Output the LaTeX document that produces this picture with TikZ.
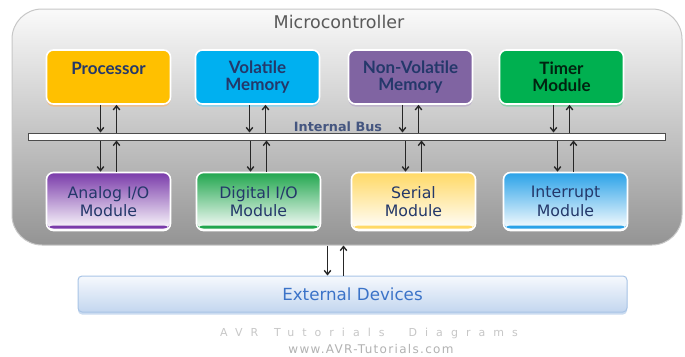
\documentclass[tikz,border=0pt]{standalone}
\usepackage{fontspec}
\setmainfont{DejaVu Sans}
\newfontfamily\latofont{Lato}
\newfontfamily\wmfont[LetterSpace=73]{DejaVu Sans}
\newfontfamily\wwwfont[LetterSpace=11]{DejaVu Sans}
\usetikzlibrary{arrows.meta,shadows}
\definecolor{navy}{HTML}{24386A}
\definecolor{cproc}{HTML}{FFC000}
\definecolor{cvmem}{HTML}{00B0F0}
\definecolor{cnvmem}{HTML}{8064A2}
\definecolor{ctimer}{HTML}{00B050}
\definecolor{canalog}{HTML}{7A3BAA}
\definecolor{cdigital}{HTML}{21A64E}
\definecolor{cserial}{HTML}{FFD966}
\definecolor{cintr}{HTML}{2AA2E8}
\definecolor{extborder}{HTML}{A8C4E6}
\definecolor{exttop}{HTML}{F6F9FD}
\definecolor{extbot}{HTML}{C3D6EF}
\definecolor{exttext}{HTML}{3B73C8}
\begin{document}
\begin{tikzpicture}[x=1pt,y=-1pt,
  topbox/.style={draw=white, line width=1.6pt, rounded corners=7pt,
    minimum width=124pt, minimum height=54pt, align=center, inner sep=0pt,
    font=\latofont\bfseries\fontsize{17}{17}\selectfont, text=navy},
  botbox/.style={draw=white, line width=1.6pt, rounded corners=7pt,
    minimum width=124pt, minimum height=58pt, align=center, inner sep=0pt,
    font=\fontsize{15.75}{18.5}\selectfont, text=navy,
    top color=#1, middle color=#1!20, bottom color=white,
    path picture={\fill[#1] ([yshift=2pt]path picture bounding box.south west) rectangle ([yshift=5pt]path picture bounding box.south east);}},
  shad/.style={drop shadow={shadow xshift=0pt, shadow yshift=-2.5pt, fill=#1, opacity=0.6}},
  arr/.style={-{Straight Barb[length=4pt,width=6.5pt]}, line width=1.4pt, black!85}]
\useasboundingbox (0,0) rectangle (685,356);
\fill[white] (0,0) rectangle (685,356);
% microcontroller container
\node[draw=black!22, line width=1pt, rounded corners=30pt, minimum width=670pt, minimum height=236pt,
  top color=black!2, middle color=black!17, bottom color=black!42, inner sep=0pt] (mc) at (347,127) {};
\node[text=black!65, font=\fontsize{17.5}{19}\selectfont] (title) at (339,22) {Microcontroller};
% top modules
\node[topbox, fill=cproc, shad=orange!60] (proc) at (108.5,77) {Processor\\\mbox{}};
\node[topbox, fill=cvmem, shad=cvmem!60] (vmem) at (257.5,77) {Volatile\\Memory};
\node[topbox, fill=cnvmem, shad=cnvmem!60] (nvmem) at (410.5,77) {Non-Volatile\\Memory};
\node[topbox, fill=ctimer, shad=ctimer!60, text=black!80!ctimer] (timer) at (561.5,77) {Timer\\Module};
% bus
\node[draw=black!70, line width=1pt, fill=white, minimum width=637pt, minimum height=7pt, inner sep=0pt] (bus) at (346.5,136.5) {};
\node[text=navy!85, font=\bfseries\fontsize{12.8}{14}\selectfont] (buslabel) at (338,126.5) {Internal Bus};
% bottom modules
\node[botbox=canalog] (analog) at (108.5,201.5) {Analog I/O\\Module};
\node[botbox=cdigital] (digital) at (258.5,201.5) {Digital I/O\\Module};
\node[botbox=cserial] (serial) at (413.5,201.5) {Serial\\Module};
\node[botbox=cintr] (intr) at (565.5,201.5) {Interrupt\\Module};
% arrows
\foreach \n in {proc,vmem,nvmem,timer}{
  \draw[arr] ([xshift=-8pt]\n.south) -- ([xshift=-8pt]\n.south |- bus.north);
  \draw[arr] ([xshift=8pt]\n.south |- bus.north) -- ([xshift=8pt]\n.south);
}
\foreach \n in {analog,digital,serial,intr}{
  \draw[arr] ([xshift=-8pt]\n.north |- bus.south) -- ([xshift=-8pt]\n.north);
  \draw[arr] ([xshift=8pt]\n.north) -- ([xshift=8pt]\n.north |- bus.south);
}
% external devices
\node[draw=extborder, line width=1pt, rounded corners=4pt, minimum width=549pt, minimum height=36pt,
  top color=exttop, bottom color=extbot, inner sep=0pt, shad=extborder,
  text=exttext, font=\fontsize{16.7}{18}\selectfont] (ext) at (352.5,294) {External Devices};
\draw[arr] ([xshift=-25pt]ext.north |- mc.south) -- ([xshift=-25pt]ext.north);
\draw[arr] ([xshift=-9pt]ext.north) -- ([xshift=-9pt]ext.north |- mc.south);
% watermark
\node[text=black!22, font=\wmfont\fontsize{11}{13}\selectfont] (wm1) at (369,333) {AVR\hspace{16pt}Tutorials\hspace{24pt}Diagrams};
\node[text=black!30, font=\wwwfont\fontsize{12}{14}\selectfont] (wm2) at (371,349) {www.AVR-Tutorials.com};
\end{tikzpicture}
\end{document}
